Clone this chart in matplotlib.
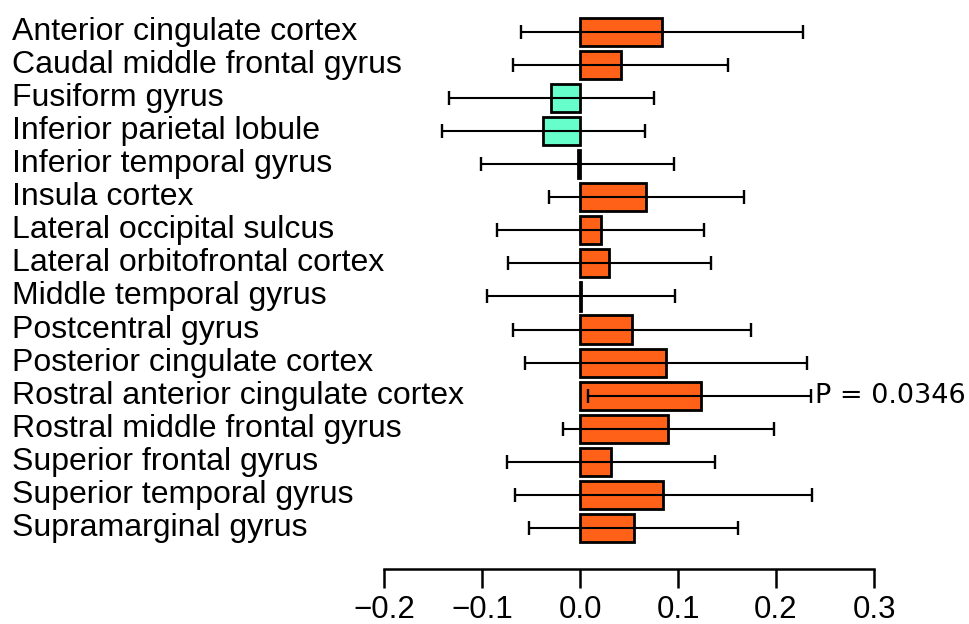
import matplotlib
matplotlib.use('Agg')
import numpy as np
from matplotlib import pyplot as plt
from matplotlib import transforms

regions = ['Anterior cingulate cortex', 'Caudal middle frontal gyrus', 'Fusiform gyrus',
           'Inferior parietal lobule', 'Inferior temporal gyrus', 'Insula cortex',
           'Lateral occipital sulcus', 'Lateral orbitofrontal cortex', 'Middle temporal gyrus',
           'Postcentral gyrus', 'Posterior cingulate cortex', 'Rostral anterior cingulate cortex',
           'Rostral middle frontal gyrus', 'Superior frontal gyrus', 'Superior temporal gyrus',
           'Supramarginal gyrus']
estimate = [0.084, 0.042, -0.030, -0.038, -0.002, 0.067, 0.021, 0.030, 0.001,
            0.053, 0.088, 0.123, 0.090, 0.032, 0.085, 0.055]
ci_low = [-0.060, -0.068, -0.134, -0.141, -0.101, -0.032, -0.085, -0.073, -0.095,
          -0.068, -0.056, 0.0085, -0.017, -0.075, -0.066, -0.052]
ci_high = [0.228, 0.151, 0.075, 0.066, 0.096, 0.167, 0.126, 0.134, 0.097,
           0.174, 0.232, 0.236, 0.198, 0.138, 0.237, 0.161]
p_label = 'P = 0.0346'
p_row = 11

est = np.array(estimate)
lo = np.array(ci_low)
hi = np.array(ci_high)
n = len(regions)
ypos = np.arange(n, 0, -1)

fig = plt.figure(figsize=(9.69, 6.24), dpi=100)
ax = fig.add_axes([0.3963, 0.0881, 0.5057, 0.8927])

colors = ['#FF6119' if v >= 0 else '#66FFCC' for v in est]
ax.barh(ypos, est, height=0.85, left=0, color=colors, edgecolor='black', linewidth=2.0, zorder=2)
ax.errorbar(est, ypos, xerr=[est - lo, hi - est], fmt='none', ecolor='black',
            elinewidth=1.5, capsize=5, capthick=1.7, zorder=3)

ax.set_xlim(-0.2, 0.3)
ax.set_ylim(-0.24, n + 0.6)
ax.set_xticks([-0.2, -0.1, 0.0, 0.1, 0.2, 0.3])
ax.set_xticklabels(['\u22120.2', '\u22120.1', '0.0', '0.1', '0.2', '0.3'],
                   fontsize=22.5, family='Liberation Sans')
ax.tick_params(axis='x', length=14, width=1.8, pad=5)
ax.set_yticks([])
for s in ['top', 'right', 'left']:
    ax.spines[s].set_visible(False)
ax.spines['bottom'].set_bounds(-0.2, 0.3)
ax.spines['bottom'].set_linewidth(1.8)

trans = transforms.blended_transform_factory(fig.transFigure, ax.transData)
for y, name in zip(ypos, regions):
    ax.text(0.012, y, name, transform=trans, ha='left', va='center',
            fontsize=23, family='Liberation Sans', clip_on=False)

ax.annotate(p_label, (hi[p_row], ypos[p_row]), xytext=(3, 0), textcoords='offset points',
            ha='left', va='center', fontsize=19.5, family='DejaVu Sans', annotation_clip=False)

plt.savefig('out.png', dpi=100)
